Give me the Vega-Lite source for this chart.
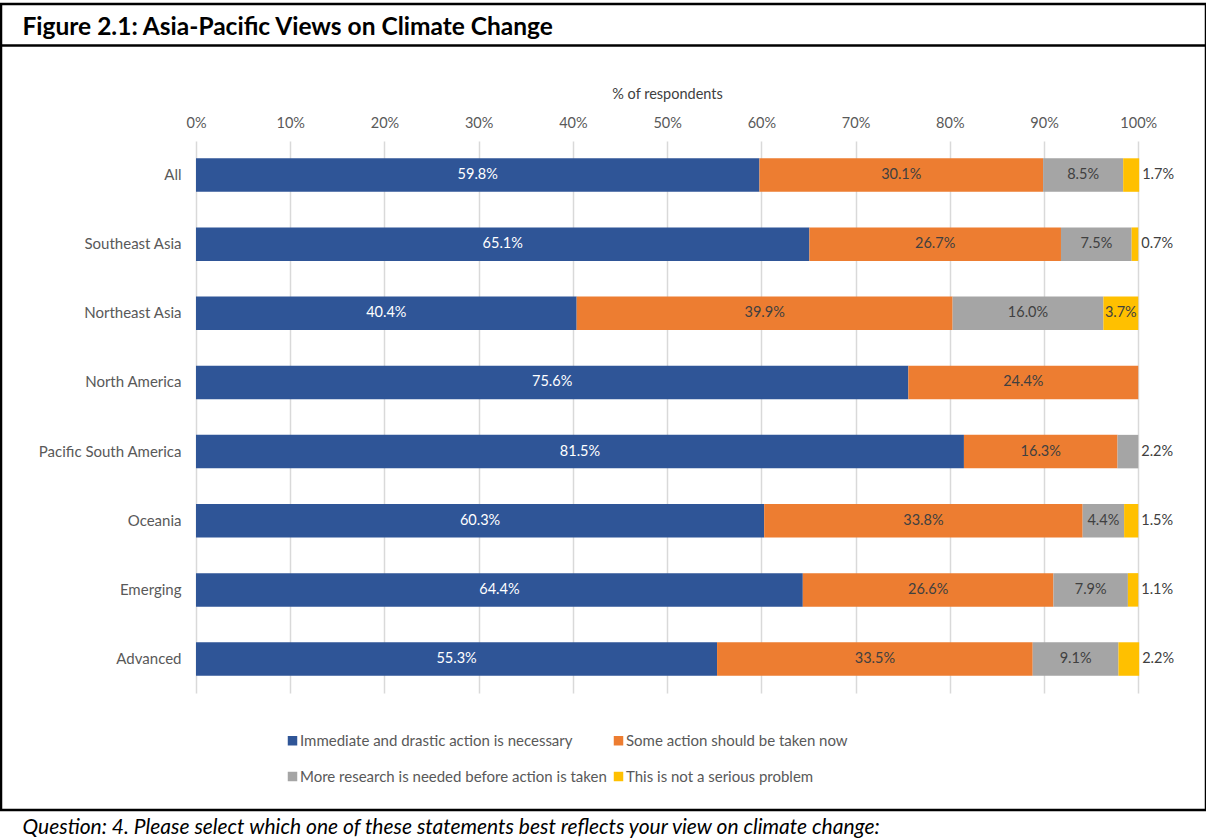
{
  "$schema": "https://vega.github.io/schema/vega-lite/v6.json",
  "width": 1205,
  "height": 806,
  "autosize": {"type": "none"},
  "padding": {"left": 1, "top": 4, "right": 0, "bottom": 30},
  "background": "white",
  "config": {
    "font": "Lato",
    "view": {"stroke": "black", "strokeWidth": 2.5},
    "axis": {"labelFont": "Lato", "titleFont": "Lato"},
    "legend": {"labelFont": "Lato"}
  },
  "data": {
    "values": [
      {"cat": "All", "series": "Immediate and drastic action is necessary", "pct": 59.8},
      {"cat": "All", "series": "Some action should be taken now", "pct": 30.1},
      {"cat": "All", "series": "More research is needed before action is taken", "pct": 8.5},
      {"cat": "All", "series": "This is not a serious problem", "pct": 1.7},
      {"cat": "Southeast Asia", "series": "Immediate and drastic action is necessary", "pct": 65.1},
      {"cat": "Southeast Asia", "series": "Some action should be taken now", "pct": 26.7},
      {"cat": "Southeast Asia", "series": "More research is needed before action is taken", "pct": 7.5},
      {"cat": "Southeast Asia", "series": "This is not a serious problem", "pct": 0.7},
      {"cat": "Northeast Asia", "series": "Immediate and drastic action is necessary", "pct": 40.4},
      {"cat": "Northeast Asia", "series": "Some action should be taken now", "pct": 39.9},
      {"cat": "Northeast Asia", "series": "More research is needed before action is taken", "pct": 16.0},
      {"cat": "Northeast Asia", "series": "This is not a serious problem", "pct": 3.7},
      {"cat": "North America", "series": "Immediate and drastic action is necessary", "pct": 75.6},
      {"cat": "North America", "series": "Some action should be taken now", "pct": 24.4},
      {"cat": "Pacific South America", "series": "Immediate and drastic action is necessary", "pct": 81.5},
      {"cat": "Pacific South America", "series": "Some action should be taken now", "pct": 16.3},
      {"cat": "Pacific South America", "series": "More research is needed before action is taken", "pct": 2.2},
      {"cat": "Oceania", "series": "Immediate and drastic action is necessary", "pct": 60.3},
      {"cat": "Oceania", "series": "Some action should be taken now", "pct": 33.8},
      {"cat": "Oceania", "series": "More research is needed before action is taken", "pct": 4.4},
      {"cat": "Oceania", "series": "This is not a serious problem", "pct": 1.5},
      {"cat": "Emerging", "series": "Immediate and drastic action is necessary", "pct": 64.4},
      {"cat": "Emerging", "series": "Some action should be taken now", "pct": 26.6},
      {"cat": "Emerging", "series": "More research is needed before action is taken", "pct": 7.9},
      {"cat": "Emerging", "series": "This is not a serious problem", "pct": 1.1},
      {"cat": "Advanced", "series": "Immediate and drastic action is necessary", "pct": 55.3},
      {"cat": "Advanced", "series": "Some action should be taken now", "pct": 33.5},
      {"cat": "Advanced", "series": "More research is needed before action is taken", "pct": 9.1},
      {"cat": "Advanced", "series": "This is not a serious problem", "pct": 2.2}
    ]
  },
  "transform": [
    {"calculate": "indexof(['Immediate and drastic action is necessary','Some action should be taken now','More research is needed before action is taken','This is not a serious problem'], datum.series)", "as": "ord"},
    {"stack": "pct", "groupby": ["cat"], "sort": [{"field": "ord", "order": "ascending"}], "as": ["v0", "v1"]},
    {"calculate": "(datum.v0 + datum.v1) / 2", "as": "mid"},
    {"calculate": "format(datum.pct, '.1f') + '%'", "as": "lbl"}
  ],
  "resolve": {"axis": {"x": "independent"}},
  "layer": [
    {
      "mark": {"type": "bar"},
      "encoding": {
        "y": {
          "field": "cat", "type": "nominal",
          "scale": {
            "domain": [" ", "  ", "All", "Southeast Asia", "Northeast Asia", "North America", "Pacific South America", "Oceania", "Emerging", "Advanced", "   "],
            "paddingInner": 0.5155, "paddingOuter": 0.5865, "align": 0.1975, "round": false
          },
          "axis": {
            "orient": "left", "offset": -195, "domain": false, "ticks": false, "grid": false,
            "values": ["All", "Southeast Asia", "Northeast Asia", "North America", "Pacific South America", "Oceania", "Emerging", "Advanced"],
            "labelPadding": 15, "labelFontSize": 15, "labelColor": "#595959",
            "title": "Figure 2.1: Asia-Pacific Views on Climate Change",
            "titleAngle": 0, "titleX": -174, "titleY": 23, "titleAlign": "left", "titleBaseline": "middle",
            "titleFontSize": 24.5, "titleFontWeight": "bold", "titleColor": "black"
          }
        },
        "x": {
          "field": "v0", "type": "quantitative",
          "scale": {"domain": [-20.694, 107.19], "nice": false, "zero": false},
          "axis": {
            "orient": "top", "offset": -41,
            "values": [0, 10, 20, 30, 40, 50, 60, 70, 80, 90, 100],
            "labelExpr": "datum.value + '%'",
            "domain": true, "domainColor": "black", "domainWidth": 2.5,
            "ticks": false, "grid": false,
            "labelPadding": -78, "labelBaseline": "middle", "labelFontSize": 14.5, "labelColor": "#595959",
            "labelFlush": false, "labelOverlap": false,
            "title": "% of respondents", "titleX": 666, "titleY": 49, "titleBaseline": "middle", "titleAlign": "center",
            "titleFontSize": 14.5, "titleFontWeight": "normal", "titleColor": "#404040"
          }
        },
        "x2": {"field": "v1"},
        "color": {
          "field": "series", "type": "nominal",
          "scale": {
            "domain": ["Immediate and drastic action is necessary", "More research is needed before action is taken", "Some action should be taken now", "This is not a serious problem"],
            "range": ["#2F5597", "#A5A5A5", "#ED7D31", "#FFC000"]
          },
          "legend": {
            "orient": "none", "legendX": 284, "legendY": 729, "columns": 2, "title": null,
            "symbolType": "square", "symbolSize": 90, "symbolStrokeWidth": 0,
            "labelFontSize": 15, "labelColor": "#595959", "labelLimit": 600,
            "rowPadding": 20, "columnPadding": 4, "labelOffset": 0, "padding": 0, "symbolOffset": 0
          }
        }
      }
    },
    {
      "transform": [{"filter": "datum.pct >= 3"}],
      "mark": {"type": "text", "fontSize": 14.5, "baseline": "middle", "align": "center"},
      "encoding": {
        "x": {
          "field": "mid", "type": "quantitative",
          "axis": {
            "orient": "bottom", "offset": -117,
            "values": [0, 10, 20, 30, 40, 50, 60, 70, 80, 90, 100],
            "domain": false, "labels": false, "grid": false,
            "ticks": true, "tickSize": -552, "tickColor": "#d9d9d9", "tickWidth": 1.5,
            "title": "Question: 4. Please select which one of these statements best reflects your view on climate change:",
            "titleX": 21, "titleY": 134, "titleAlign": "left", "titleBaseline": "middle",
            "titleFontStyle": "italic", "titleFontWeight": "normal", "titleFontSize": 21, "titleColor": "black",
            "zindex": 0
          }
        },
        "y": {"field": "cat", "type": "nominal"},
        "text": {"field": "lbl"},
        "color": {"condition": {"test": "datum.ord == 0", "value": "white"}, "value": "#404040"}
      }
    },
    {
      "transform": [{"filter": "datum.pct < 3"}],
      "mark": {"type": "text", "fontSize": 14.5, "baseline": "middle", "align": "left", "dx": 3, "color": "#404040"},
      "encoding": {
        "x": {"field": "v1", "type": "quantitative", "axis": null},
        "y": {"field": "cat", "type": "nominal"},
        "text": {"field": "lbl"}
      }
    }
  ]
}
